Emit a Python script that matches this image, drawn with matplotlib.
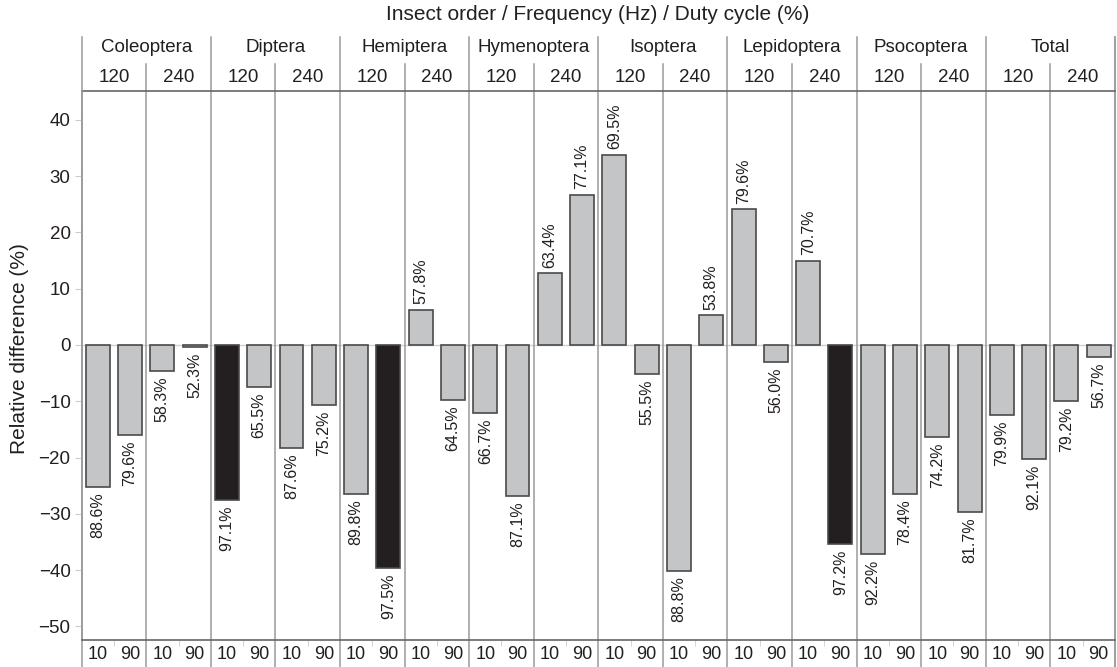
import numpy as np
import matplotlib
matplotlib.use('Agg')  # pas d'affichage
import matplotlib.pyplot as plt
import matplotlib.transforms as mtransforms

plt.rcParams['font.family'] = ['Liberation Sans', 'DejaVu Sans']

# --- données ---
orders = ['Coleoptera', 'Diptera', 'Hemiptera', 'Hymenoptera',
          'Isoptera', 'Lepidoptera', 'Psocoptera', 'Total']
frequencies = ['120', '240']
duty_cycles = ['10', '90']

# différence relative (%), ordre : ordre -> fréquence -> cycle
rel_diff = [-25.2, -16.0, -4.6, -0.3,
            -27.5, -7.4, -18.3, -10.6,
            -26.5, -39.6, 6.2, -9.8,
            -12.1, -26.8, 12.7, 26.7,
            33.8, -5.1, -40.1, 5.3,
            24.1, -3.1, 14.9, -35.3,
            -37.1, -26.5, -16.3, -29.6,
            -12.4, -20.3, -9.9, -2.2]

# pourcentage affiché au bout de chaque barre
agreement = [88.6, 79.6, 58.3, 52.3,
             97.1, 65.5, 87.6, 75.2,
             89.8, 97.5, 57.8, 64.5,
             66.7, 87.1, 63.4, 77.1,
             69.5, 55.5, 88.8, 53.8,
             79.6, 56.0, 70.7, 97.2,
             92.2, 78.4, 74.2, 81.7,
             79.9, 92.1, 79.2, 56.7]

GREY = '#c4c5c7'
DARK = '#231f20'
LINE = '#9a9a9a'
TXT = '#231f20'

fig = plt.figure(figsize=(11.17, 6.67), dpi=100)
ax = fig.add_axes([0.0731, 0.0405, 0.925, 0.8231])

n_freq = len(frequencies)
n_duty = len(duty_cycles)
x = np.arange(len(rel_diff))
colors = [DARK if a > 95 else GREY for a in agreement]

ax.axhline(0, color='#d0d0d0', lw=1, zorder=0)
ax.bar(x, rel_diff, width=0.74, color=colors, edgecolor='#4a4a4a', linewidth=1.2, zorder=3)

# étiquettes au bout des barres
for xi, v, a in zip(x, rel_diff, agreement):
    if v >= 0:
        ax.annotate(f'{a:.1f}%', (xi, v), xytext=(0, 4), textcoords='offset points',
                    rotation=90, ha='center', va='bottom', fontsize=11.5, color=TXT)
    else:
        ax.annotate(f'{a:.1f}%', (xi, v), xytext=(0, -4), textcoords='offset points',
                    rotation=90, ha='center', va='top', fontsize=11.5, color=TXT)

ax.set_xlim(-0.5, len(rel_diff) - 0.5)
ax.set_ylim(-52.4, 45.1)
ax.set_yticks(np.arange(-50, 41, 10))
ax.set_yticklabels([str(t).replace('-', '\u2212') for t in range(-50, 41, 10)])
ax.tick_params(axis='y', length=5, color='#cccccc', labelsize=13.5, labelcolor=TXT, pad=3)

# axe des x : ticks entre 10 et 90, étiquettes au centre des barres
ax.set_xticks(x)
ax.set_xticklabels(duty_cycles * (len(x) // n_duty))
ax.tick_params(axis='x', length=0, labelsize=13, labelcolor=TXT, pad=4)
ax.set_xticks(np.arange(0.5, len(x), 2), minor=True)
ax.tick_params(axis='x', which='minor', length=4, color='#cccccc')

for side in ['top', 'right']:
    ax.spines[side].set_visible(False)
ax.spines['left'].set_color(LINE)
ax.spines['left'].set_linewidth(1.2)
ax.spines['bottom'].set_color('#666666')
ax.spines['bottom'].set_linewidth(1.2)

ax.set_ylabel('Relative difference (%)', fontsize=15, color=TXT)
ax.yaxis.set_label_coords(-0.051, 0.53)

# en-têtes au-dessus du graphique
trans = mtransforms.blended_transform_factory(ax.transData, ax.transAxes)
ax.plot([-0.5, len(x) - 0.5], [1, 1], transform=trans, color='#666666', lw=1.2, clip_on=False)

group = n_freq * n_duty
for b in np.arange(-0.5, len(x), n_duty):
    top = 1.098 if (b + 0.5) % group == 0 else 1.049
    ax.plot([b, b], [-0.05, top], transform=trans, color=LINE, lw=1.1,
            clip_on=False, zorder=1)
b = len(x) - 0.5
ax.plot([b, b], [-0.05, 1.098], transform=trans, color=LINE, lw=1.1, clip_on=False, zorder=1)

for i, name in enumerate(orders):
    xc = i * group + (group - 1) / 2
    ax.text(xc, 1.079, name, transform=trans, ha='center', va='center',
            fontsize=13.5, color=TXT)
    for j, f in enumerate(frequencies):
        xf = i * group + j * n_duty + (n_duty - 1) / 2
        ax.text(xf, 1.025, f, transform=trans, ha='center', va='center',
                fontsize=13.5, color=TXT)

fig.text(0.535, 0.978, 'Insect order / Frequency (Hz) / Duty cycle (%)',
         ha='center', va='center', fontsize=15, color=TXT)

plt.savefig('out.png', dpi=100)
plt.close()
